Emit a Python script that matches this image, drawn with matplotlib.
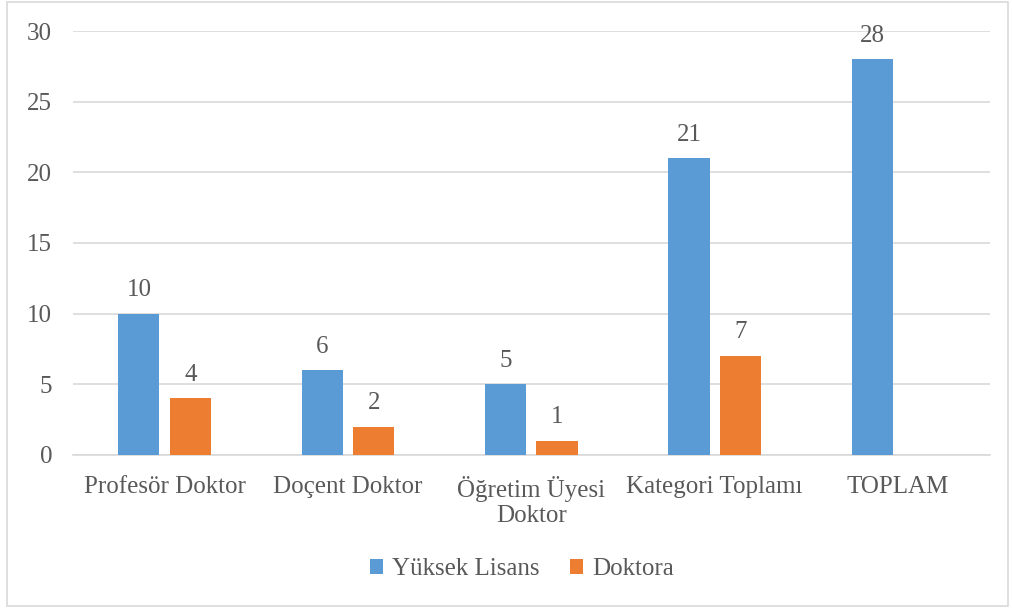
import matplotlib
matplotlib.use("Agg")
import matplotlib.pyplot as plt
import numpy as np
from matplotlib.font_manager import FontProperties
from matplotlib.patches import Rectangle

CATEGORIES = ["Profesör Doktor", "Doçent Doktor", "Öğretim Üyesi\nDoktor",
              "Kategori Toplamı", "TOPLAM"]
YUKSEK_LISANS = [10, 6, 5, 21, 28]
DOKTORA = [4, 2, 1, 7, 0]
SERIES = ["Yüksek Lisans", "Doktora"]
COLORS = ["#5B9BD5", "#ED7D31"]
TEXT = "#595959"
FS = 18

plt.rcParams["font.serif"] = ["Liberation Serif", "DejaVu Serif"]
plt.rcParams["font.family"] = ["serif"]

fig = plt.figure(figsize=(10.13, 6.08), dpi=100)
ax = fig.add_axes([0.072, 0.252, 0.905, 0.697])

x = np.arange(len(CATEGORIES))
width = 0.224
off = 0.14
b1 = ax.bar(x - off, YUKSEK_LISANS, width, color=COLORS[0], label=SERIES[0], zorder=3)
b2 = ax.bar(x + off, DOKTORA, width, color=COLORS[1], label=SERIES[1], zorder=3)
ax.bar_label(b1, fontsize=FS, color=TEXT, padding=9)
ax.bar_label(b2, labels=[str(v) if v else "" for v in DOKTORA],
             fontsize=FS, color=TEXT, padding=9)

ax.set_xlim(-0.5, len(CATEGORIES) - 0.5)
ax.set_ylim(0, 30)
ax.set_yticks(range(0, 31, 5))
ax.set_xticks(x)
ax.set_xticklabels(CATEGORIES, fontsize=FS, color=TEXT, va="top", linespacing=1.2)
ax.tick_params(axis="y", labelsize=FS, colors=TEXT, length=0, pad=15)
ax.tick_params(axis="x", length=0, pad=15)
ax.grid(axis="y", color="#d9d9d9", linewidth=1.2, zorder=0)
for s in ["top", "right", "left"]:
    ax.spines[s].set_visible(False)
ax.spines["bottom"].set_color("#d9d9d9")
ax.spines["bottom"].set_linewidth(1.2)

leg_font = FontProperties(family="serif", size=FS)
leg = ax.legend(loc="center", bbox_to_anchor=(0.515, 0.064),
                bbox_transform=fig.transFigure, ncol=2, frameon=False,
                prop=leg_font, handlelength=0.55, handleheight=0.55,
                handletextpad=0.35, columnspacing=1.2)
for t in leg.get_texts():
    t.set_color(TEXT)

fig.patches.append(Rectangle((0.007, 0.004), 0.988, 0.993, transform=fig.transFigure,
                             fill=False, edgecolor="#d9d9d9", linewidth=1.2))

fig.savefig("out.png", dpi=100)
